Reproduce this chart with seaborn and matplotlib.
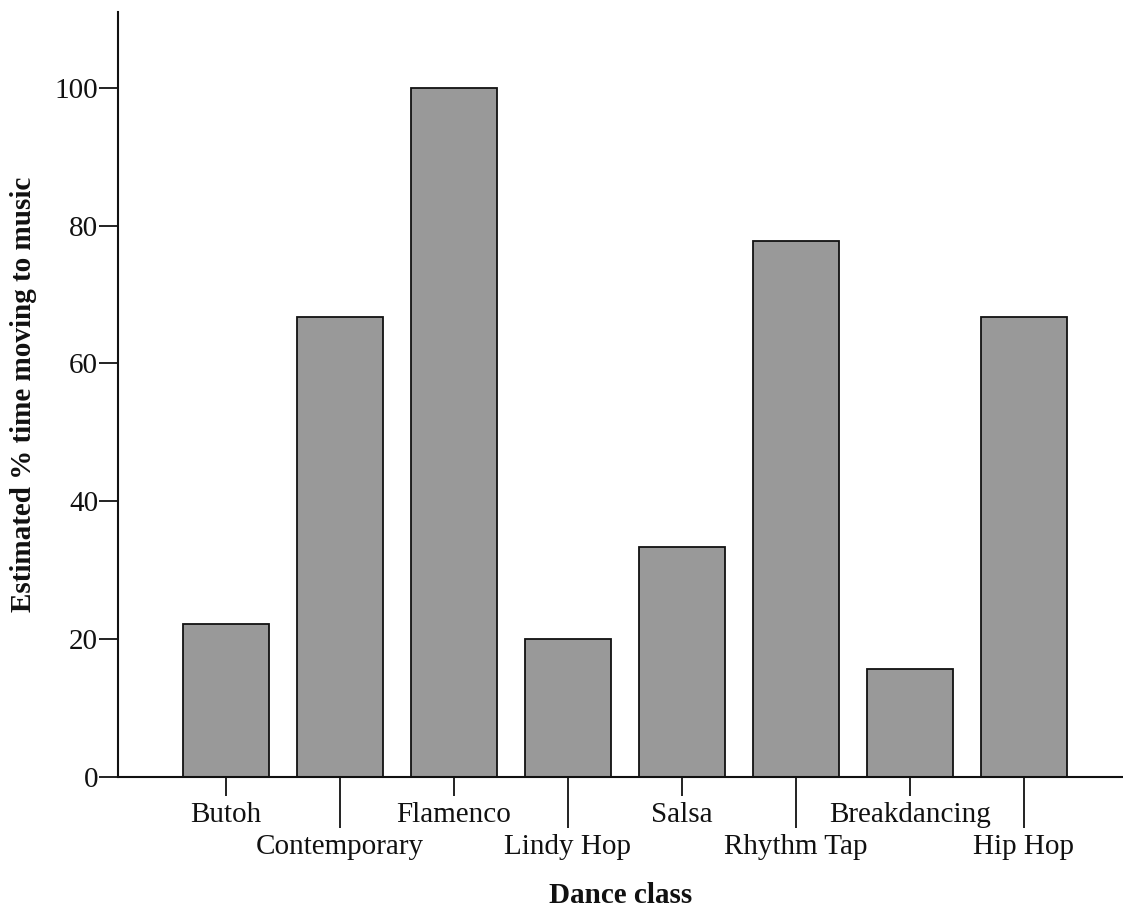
import matplotlib
matplotlib.use("Agg")
import matplotlib.pyplot as plt
import seaborn as sns
import pandas as pd

classes = ["Butoh", "Contemporary", "Flamenco", "Lindy Hop", "Salsa",
           "Rhythm Tap", "Breakdancing", "Hip Hop"]
pct_moving = [22.2, 66.7, 100.0, 20.0, 33.3, 77.8, 15.6, 66.7]
y_ticks = [0, 20, 40, 60, 80, 100]

df = pd.DataFrame({"Dance class": classes, "pct": pct_moving})

sns.set_theme(style="white")
plt.rcParams["font.family"] = ["Liberation Serif", "DejaVu Serif"]
plt.rcParams["text.color"] = "#111111"
plt.rcParams["xtick.labelcolor"] = "#111111"
plt.rcParams["ytick.labelcolor"] = "#111111"
plt.rcParams["axes.labelcolor"] = "#111111"

DPI = 100
fig = plt.figure(figsize=(11.23, 9.08), dpi=DPI)
ax = fig.add_axes([0.105, 0.1443, 0.895, 0.8425])

sns.barplot(data=df, x="Dance class", y="pct", order=classes, color="#999999",
            saturation=1, width=0.754, edgecolor="#111111", linewidth=1.3, ax=ax)

ax.set_ylim(0, 111)
ax.set_xlim(-0.947, 7.869)
ax.set_yticks(y_ticks)
ax.set_yticklabels([str(v) for v in y_ticks])

# Staggered category labels: even positions on major ticks, odd on long minor ticks
major_pos = list(range(0, len(classes), 2))
minor_pos = list(range(1, len(classes), 2))
ax.set_xticks(major_pos)
ax.set_xticklabels([classes[i] for i in major_pos])
ax.set_xticks(minor_pos, minor=True)
ax.set_xticklabels([classes[i] for i in minor_pos], minor=True)

fs = 21
ax.tick_params(axis="x", which="major", length=13.7, width=1.3, pad=4.5,
               labelsize=fs, color="#111111", direction="out", bottom=True)
ax.tick_params(axis="x", which="minor", length=36.5, width=1.3, pad=4.5,
               labelsize=fs, color="#111111", direction="out", bottom=True)
ax.tick_params(axis="y", length=13.7, width=1.3, pad=0.5, labelsize=fs,
               color="#111111", direction="out", left=True)

for side in ["top", "right"]:
    ax.spines[side].set_visible(False)
for side in ["left", "bottom"]:
    ax.spines[side].set_linewidth(1.5)
    ax.spines[side].set_color("#111111")

ax.set_xlabel("Dance class", fontsize=fs, fontweight="bold", labelpad=16)
ax.set_ylabel("Estimated % time moving to music", fontsize=fs,
              fontweight="bold", labelpad=13)

fig.savefig("out.png", dpi=DPI, facecolor="white")
